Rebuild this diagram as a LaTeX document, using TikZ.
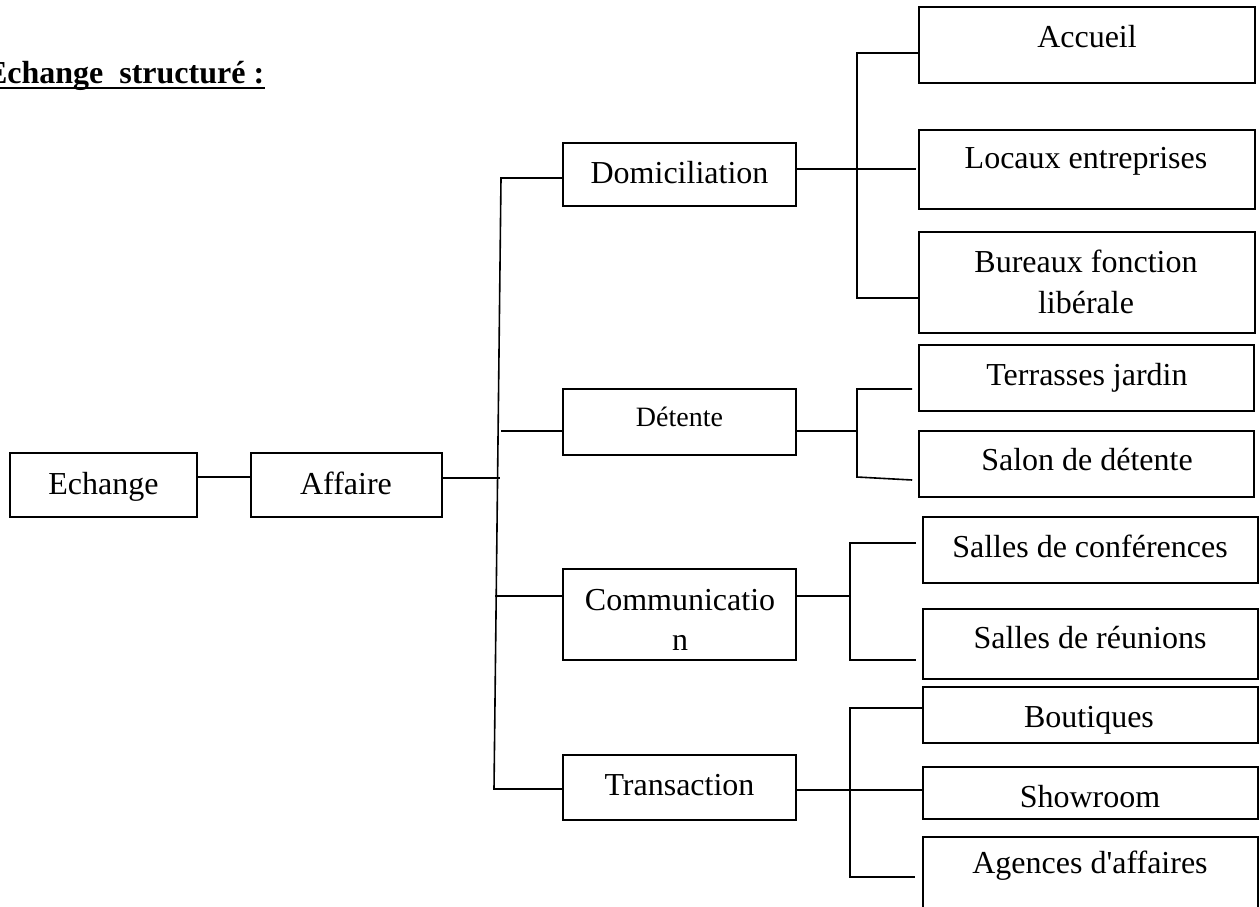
\documentclass[tikz,border=0pt]{standalone}
\usepackage{fontspec}
\setmainfont{Liberation Serif}
\usetikzlibrary{calc}
\begin{document}
\begin{tikzpicture}[x=1pt,y=-1pt,line width=1.6pt,
  box/.style={draw,rectangle,inner sep=0pt,line width=1.6pt},
  lbl/.style={anchor=base,inner sep=0pt,font=\fontsize{32}{38}\selectfont},
  small/.style={anchor=base,inner sep=0pt,font=\fontsize{28}{34}\selectfont},
  conn/.style={line width=1.6pt}]
\useasboundingbox (0,0) rectangle (1260,906);

% title
\node[anchor=base east,inner sep=0pt,font=\bfseries\fontsize{32}{38}\selectfont] (title) at (265,83) {Echange\ \ structuré :};
\draw[line width=2.5pt] ($(title.base west)+(0,5)$) -- ($(title.base east)+(0,5)$);

% boxes
\node[box,minimum width=187pt,minimum height=64pt] (ech) at (103.5,485) {};
\node[box,minimum width=191pt,minimum height=64pt] (aff) at (346.5,485) {};
\node[box,minimum width=233pt,minimum height=63pt] (dom) at (679.5,174.5) {};
\node[box,minimum width=233pt,minimum height=66pt] (det) at (679.5,422) {};
\node[box,minimum width=233pt,minimum height=91pt] (com) at (679.5,614.5) {};
\node[box,minimum width=233pt,minimum height=65pt] (tra) at (679.5,787.5) {};
\node[box,minimum width=336pt,minimum height=76pt] (acc) at (1087,45) {};
\node[box,minimum width=336pt,minimum height=79pt] (loc) at (1087,169.5) {};
\node[box,minimum width=336pt,minimum height=101pt] (bur) at (1087,282.5) {};
\node[box,minimum width=335pt,minimum height=66pt] (ter) at (1086.5,378) {};
\node[box,minimum width=335pt,minimum height=66pt] (sal) at (1086.5,464) {};
\node[box,minimum width=335pt,minimum height=66pt] (conf) at (1090.5,550) {};
\node[box,minimum width=335pt,minimum height=70pt] (reu) at (1090.5,644) {};
\node[box,minimum width=335pt,minimum height=56pt] (bou) at (1090.5,715) {};
\node[box,minimum width=335pt,minimum height=52pt] (sho) at (1090.5,793) {};
\node[box,minimum width=335pt,minimum height=113pt] (age) at (1090.5,893.5) {};

% labels
\node[lbl] (ech-t) at (103.5,494) {Echange};
\node[lbl] (aff-t) at (346,494) {Affaire};
\node[lbl] (dom-t) at (679.5,183) {Domiciliation};
\node[small] (det-t) at (679.5,426) {Détente};
\node[lbl] (com-t1) at (680,610) {Communicatio};
\node[lbl] (com-t2) at (680,650) {n};
\node[lbl] (tra-t) at (679.5,795) {Transaction};
\node[lbl] (acc-t) at (1087,47) {Accueil};
\node[lbl] (loc-t) at (1086,168) {Locaux entreprises};
\node[lbl] (bur-t1) at (1086,272) {Bureaux fonction};
\node[lbl] (bur-t2) at (1086,313) {libérale};
\node[lbl] (ter-t) at (1087,385) {Terrasses jardin};
\node[lbl] (sal-t) at (1087,470) {Salon de détente};
\node[lbl] (conf-t) at (1090,557) {Salles de conférences};
\node[lbl] (reu-t) at (1090,648) {Salles de réunions};
\node[lbl] (bou-t) at (1089,727) {Boutiques};
\node[lbl] (sho-t) at (1090,807) {Showroom};
\node[lbl] (age-t) at (1090,873) {Agences d\textquotesingle affaires};

% junction coordinates
\coordinate (tT) at (501,178);
\coordinate (tB) at (494,789);
\coordinate (tA) at (500,478);
\coordinate (tDe) at (501,431);
\coordinate (tCo) at (495,596);
\coordinate (dT) at (857,53);
\coordinate (dB) at (857,298);
\coordinate (eT) at (857,389);
\coordinate (eB) at (857,477);
\coordinate (eM) at (857,431);
\coordinate (cT) at (850,543);
\coordinate (cB) at (850,660);
\coordinate (cM) at (851,596);
\coordinate (rT) at (850,708);
\coordinate (rB) at (850,877);

% level 0-1
\draw[conn] (ech.east |- 0,477) -- (aff.west |- 0,477);
\draw[conn] (aff.east |- tA) -- (tA);
\draw[conn] (dom.west |- tT) -- (tT) -- (tB) -- (tra.west |- tB);
\draw[conn] (tDe) -- (det.west |- tDe);
\draw[conn] (tCo) -- (com.west |- tCo);

% Domiciliation
\draw[conn] (acc.west |- dT) -- (dT) -- (dB) -- (bur.west |- dB);
\draw[conn] (dom.east |- 0,169) -- ([xshift=-2pt]loc.west |- 0,169);

% Detente
\draw[conn] ([xshift=-6pt]ter.west |- eT) -- (eT) -- (eB) -- ([xshift=-6pt]sal.west |- 0,480);
\draw[conn] (det.east |- eM) -- (eM);

% Communication
\draw[conn] ([xshift=-6pt]conf.west |- cT) -- (cT) -- (cB) -- ([xshift=-6pt]reu.west |- cB);
\draw[conn] (com.east |- cM) -- (cM);

% Transaction
\draw[conn] (bou.west |- rT) -- (rT) -- (rB) -- ([xshift=-7pt]age.west |- rB);
\draw[conn] (tra.east |- 0,790) -- (sho.west |- 0,790);
\end{tikzpicture}
\end{document}
